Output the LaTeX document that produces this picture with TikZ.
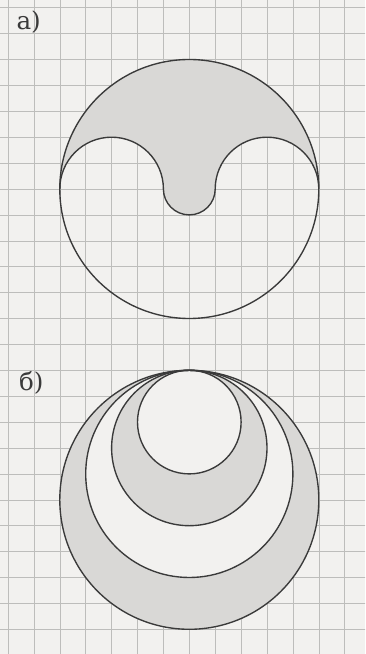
\documentclass[tikz,border=0pt]{standalone}
\usepackage{fontspec}
\setmainfont{DejaVu Serif}
\usepackage{tikz}
\definecolor{paper}{HTML}{F2F1EF}
\definecolor{tint}{HTML}{D9D8D6}
\definecolor{ink}{HTML}{3A3A3A}
\definecolor{gridgray}{HTML}{BDBDBB}
\tikzset{
  outline/.style={draw=ink,line width=1.5pt},
  gridline/.style={gridgray,line width=0.5pt},
  partlabel/.style={text=ink,inner sep=0pt,font=\fontsize{27}{32}\selectfont}
}

\begin{document}
\begin{tikzpicture}
\fill[paper] (-7.309,-17.954) rectangle (6.784,7.297);
\useasboundingbox (-7.309,-17.954) rectangle (6.784,7.297);
\begin{scope}
\clip (-7.309,-17.954) rectangle (6.784,7.297);
\draw[gridline] (-8,-18) grid[step=1] (7,8);
\end{scope}
\node[partlabel] (a) at (-6.2,6.43) {а)};
\node[partlabel] (b) at (-6.1,-7.47) {б)};
\fill[tint] (-5,0) arc (180:0:5) arc (0:180:2) arc (0:-180:1) arc (0:180:2) -- cycle;
\draw[outline] (0,0) circle (5);
\draw[outline] (-5,0) arc (180:0:2) arc (180:360:1) arc (180:0:2);
\foreach \r/\c in {5/tint,4/paper,3/tint,2/paper}
  \fill[\c] (0,-7-\r) circle (\r);
\foreach \r in {5,4,3,2}
  \draw[outline] (0,-7-\r) circle (\r);
\end{tikzpicture}
\end{document}
